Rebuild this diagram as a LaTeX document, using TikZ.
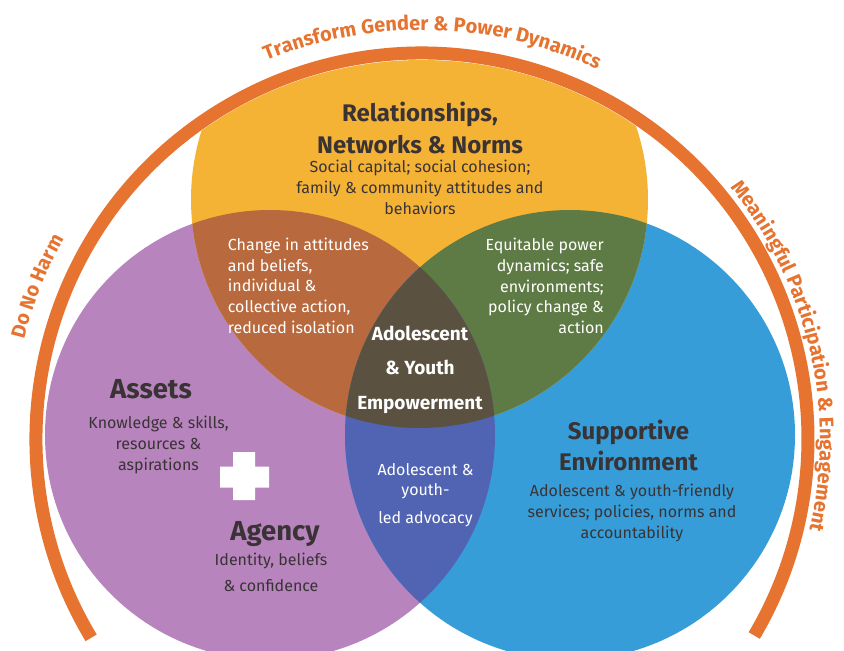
\documentclass[tikz,border=0pt]{standalone}
\usepackage{fontspec}
\setmainfont{Fira Sans}
\usetikzlibrary{decorations.text}
\definecolor{yellowC}{HTML}{F5B335}
\definecolor{purpleC}{HTML}{B784BE}
\definecolor{blueC}{HTML}{369DD8}
\definecolor{brownC}{HTML}{B86A3E}
\definecolor{greenC}{HTML}{5E7B45}
\definecolor{dblueC}{HTML}{5064B3}
\definecolor{centerC}{HTML}{5A5140}
\definecolor{orangeC}{HTML}{E6732F}
\definecolor{darkT}{HTML}{3A3335}
\newcommand{\arcfont}{\fontsize{20}{24}\selectfont\bfseries\color{orangeC}}
\begin{document}
\begin{tikzpicture}[x=1pt,y=-1pt,
  head/.style={font=\fontsize{24}{32}\selectfont\bfseries, text=darkT, align=center, inner sep=0pt},
  bighead/.style={font=\fontsize{27.5}{32}\selectfont\bfseries, text=darkT, align=center, inner sep=0pt},
  body/.style={font=\fontsize{16}{21}\selectfont, text=darkT, align=center, inner sep=0pt},
  wbody/.style={font=\fontsize{16}{20.8}\selectfont, text=white, inner sep=0pt},
  cent/.style={font=\fontsize{19}{34.5}\selectfont\bfseries, text=white, align=center, inner sep=0pt},
  band/.style={orangeC, line width=13pt},
  arctext/.style={decorate, decoration={text along path, text align=center, text={#1}}}
]
\useasboundingbox (0,0) rectangle (844,651);
\fill[white] (0,0) rectangle (844,651);
\coordinate (P) at (270,435);
\coordinate (B) at (570,435);
\coordinate (Y) at (419.5,199.5);
\coordinate (O) at (422,439);
% base circles
\fill[purpleC] (P) circle[radius=225];
\fill[blueC] (B) circle[radius=225];
\begin{scope}
  \clip (O) circle[radius=379];
  \fill[yellowC] (Y) circle[radius=228.5];
\end{scope}
% overlaps
\begin{scope}
  \clip (O) circle[radius=379];
  \clip (P) circle[radius=225];
  \fill[brownC] (Y) circle[radius=228.5];
\end{scope}
\begin{scope}
  \clip (O) circle[radius=379];
  \clip (B) circle[radius=225];
  \fill[greenC] (Y) circle[radius=228.5];
\end{scope}
\begin{scope}
  \clip (P) circle[radius=225];
  \fill[dblueC] (B) circle[radius=225];
\end{scope}
\begin{scope}
  \clip (O) circle[radius=379];
  \clip (P) circle[radius=225];
  \clip (B) circle[radius=225];
  \fill[centerC] (Y) circle[radius=228.5];
\end{scope}
% outer band
\draw[band] (O) ++(149:386) arc[start angle=149, end angle=390.6, radius=386];
% curved labels
\path[arctext={|\arcfont|Transform Gender {\&} Power Dynamics}]
  (O) ++(236.5:409) arc[start angle=236.5, end angle=306.5, radius=409];
\path[arctext={|\arcfont|Meaningful Participation {\&} Engagement}]
  (O) ++(-48:398) arc[start angle=-48, end angle=22, radius=398];
\path[arctext={|\arcfont|Do No Harm}]
  (O) ++(171.6:410) arc[start angle=171.6, end angle=231.6, radius=410];
% plus sign
\fill[white] (233,452) -- (255,452) -- (255,466.5) -- (269,466.5) -- (269,487.5)
  -- (255,487.5) -- (255,500) -- (233,500) -- (233,487.5) -- (220,487.5)
  -- (220,466.5) -- (233,466.5) -- cycle;
% texts
\node[head] (relH) at (420,127.5) {Relationships,\\Networks \& Norms};
\node[body] (relB) at (420,187.5) {Social capital; social cohesion;\\family \& community attitudes and\\behaviors};
\node[wbody, align=left, anchor=west] (brownT) at (227.7,285.7) {Change in attitudes\\and beliefs,\\individual \&\\collective action,\\reduced isolation};
\node[wbody, align=right, anchor=east] (greenT) at (604,286) {Equitable power\\dynamics; safe\\environments;\\policy change \&\\action};
\node[cent] (core) at (420,369.5) {Adolescent\\\& Youth\\Empowerment};
\node[wbody, align=center, font=\fontsize{16}{20}\selectfont] (dblueT) at (425.5,495) {Adolescent \&\\youth-\\[8pt]led advocacy};
\node[bighead] (assetsH) at (151,389.5) {Assets};
\node[body] (assetsB) at (158.5,444.5) {Knowledge \& skills,\\resources \&\\aspirations};
\node[bighead] (agencyH) at (275,533.8) {Agency};
\node[body, font=\fontsize{16}{26}\selectfont] (agencyB) at (271,572) {Identity, beliefs\\\& confidence};
\node[head, font=\fontsize{24}{31.7}\selectfont\bfseries] (suppH) at (628.5,445.5) {Supportive\\Environment};
\node[body] (suppB) at (632,513.3) {Adolescent \& youth-friendly\\services; policies, norms and\\accountability};
\end{tikzpicture}
\end{document}
